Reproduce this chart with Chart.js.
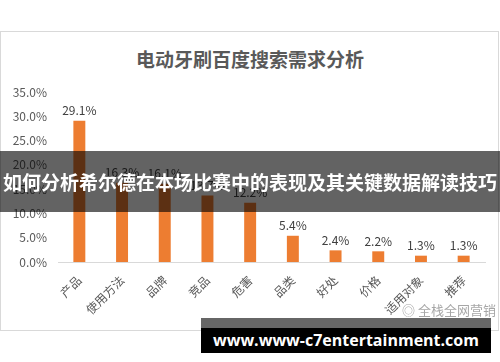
<!DOCTYPE html>
<html>
<head>
<meta charset="utf-8">
<script src="https://cdn.jsdelivr.net/npm/chart.js@4.4.1/dist/chart.umd.min.js"></script>
<style>
  html, body { margin: 0; padding: 0; background: #fff; }
  body { width: 500px; height: 362px; position: relative; overflow: hidden;
         font-family: "Noto Sans CJK SC", "Noto Sans", sans-serif; }
  #frame { position: absolute; left: 0; top: 31px; width: 497px; height: 298px;
           border: 1px solid #d9d9d9; }
  #wrap { position: absolute; left: 0; top: 0; width: 500px; height: 362px; }
  #title { position: absolute; left: 0; width: 500px; top: 45px; text-align: center;
           font-size: 19px; font-weight: bold; color: #595959; }
  #banner { position: absolute; left: 0; top: 151px; width: 500px; height: 61px;
            background: rgba(0,0,0,0.61); color: #fff; font-weight: bold;
            font-size: 19px; line-height: 61px; text-align: center; white-space: nowrap; }
  #logo { position: absolute; left: 402px; top: 302px; font-size: 13px; line-height: 16px; color: #a6a6a6; }
  #wm { position: absolute; left: 201px; top: 318px; width: 290px; height: 35px; }
  #wm .g { height: 10px; background: #666; }
  #wm .b { height: 25px; background: #000; color: #fff; font-weight: bold; font-size: 16px;
           line-height: 24px; text-align: center; white-space: nowrap;
           font-family: "Open Sans", "Liberation Sans", sans-serif; }
</style>
</head>
<body>
<div id="frame"></div>
<div id="title">电动牙刷百度搜索需求分析</div>
<div id="wrap"><canvas id="chart" width="500" height="362"></canvas></div>
<div id="banner">如何分析希尔德在本场比赛中的表现及其关键数据解读技巧</div>
<div id="logo">◎ 全栈全网营销</div>
<div id="wm"><div class="g"></div><div class="b">www.www-c7entertainment.com</div></div>
<script>
  const categories = ["产品", "使用方法", "品牌", "竞品", "危害", "品类", "好处", "价格", "适用对象", "推荐"];
  const shares = [29.1, 16.3, 16.1, 13.7, 12.2, 5.4, 2.4, 2.2, 1.3, 1.3];
  const yMax = 35;
  const yStep = 5;

  const barLabels = {
    id: "barLabels",
    afterDatasetsDraw(chart) {
      const ctx = chart.ctx;
      const meta = chart.getDatasetMeta(0);
      ctx.save();
      ctx.font = "12px 'Noto Sans CJK SC', sans-serif";
      ctx.fillStyle = "#404040";
      ctx.textAlign = "center";
      ctx.textBaseline = "bottom";
      meta.data.forEach((bar, i) => {
        ctx.fillText(shares[i].toFixed(1) + "%", bar.x, bar.y - 4);
      });
      ctx.restore();
    },
  };

  new Chart(document.getElementById("chart"), {
    type: "bar",
    data: {
      labels: categories,
      datasets: [{
        data: shares,
        backgroundColor: "#ed7d31",
        barPercentage: 0.28,
        categoryPercentage: 1,
      }],
    },
    options: {
      responsive: false,
      animation: false,
      layout: { padding: { top: 92, left: 0, right: 15, bottom: 0 } },
      plugins: { legend: { display: false }, tooltip: { enabled: false } },
      scales: {
        x: {
          grid: { display: false },
          border: { display: true, color: "#d9d9d9" },
          ticks: {
            color: "#595959",
            font: { size: 12, family: "'Noto Sans CJK SC', sans-serif" },
            maxRotation: 45,
            minRotation: 45,
            autoSkip: false,
          },
          afterFit: (s) => { s.height = 100; },
        },
        y: {
          min: 0,
          max: yMax,
          grid: { display: false },
          border: { display: false },
          ticks: {
            stepSize: yStep,
            color: "#595959",
            font: { size: 12, family: "'Noto Sans CJK SC', sans-serif" },
            callback: (v) => Number(v).toFixed(1) + "%",
          },
          afterFit: (s) => { s.width = 58; },
        },
      },
    },
    plugins: [barLabels],
  });
</script>
</body>
</html>
